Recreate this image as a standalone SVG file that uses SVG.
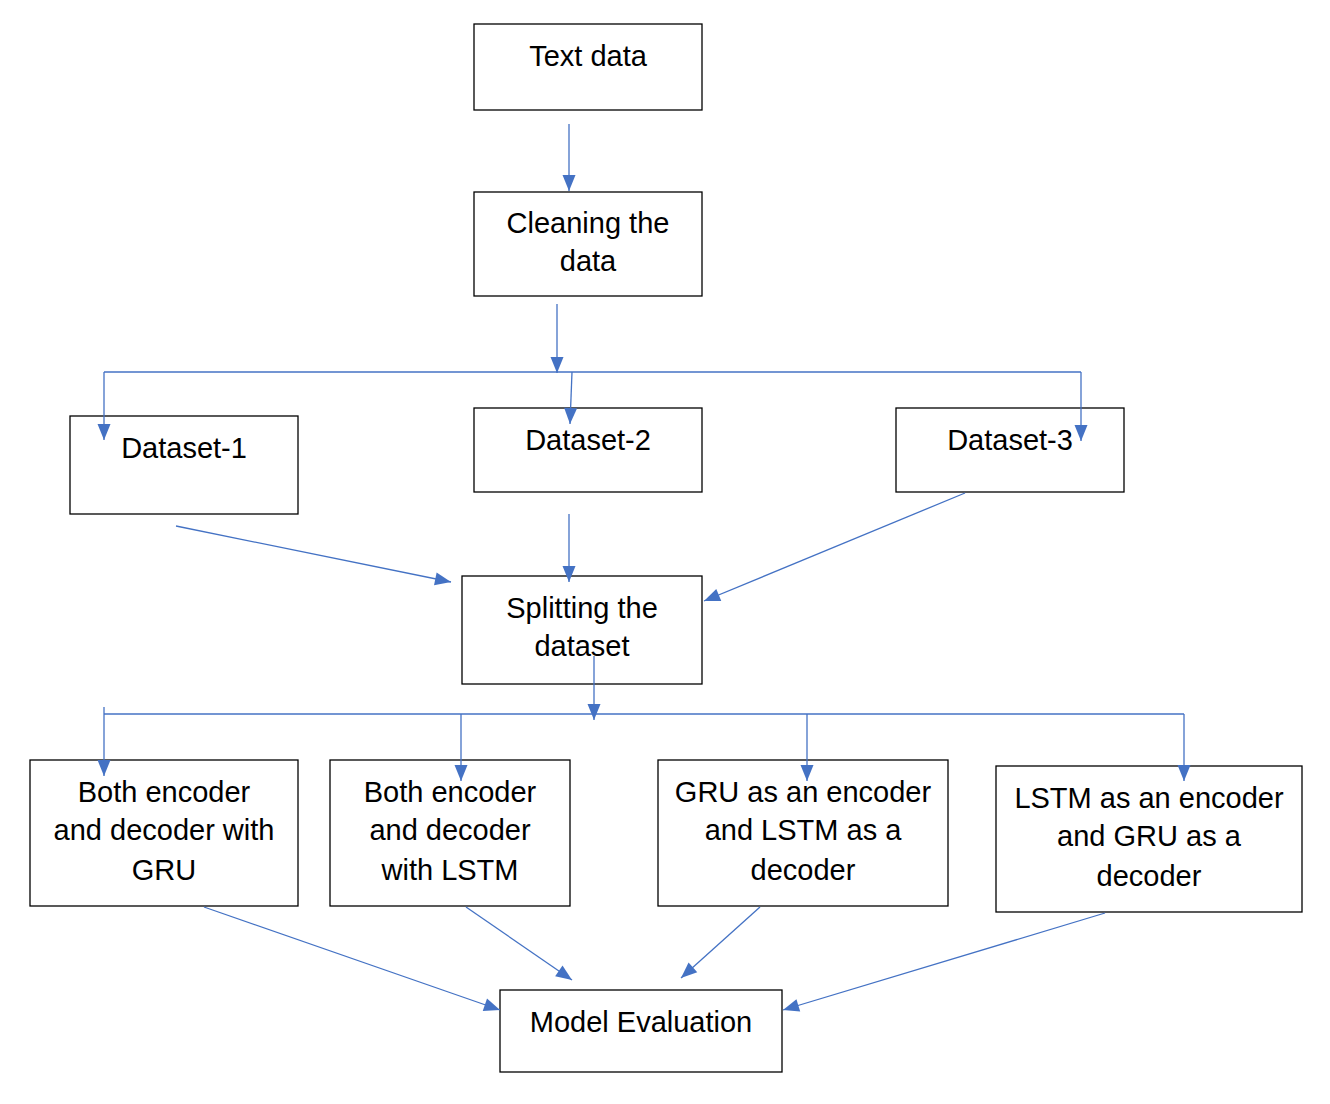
<svg xmlns="http://www.w3.org/2000/svg" width="1330" height="1104" viewBox="0 0 1330 1104">
<style>
.box{fill:#fff;stroke:#000;stroke-width:1.3}
.lbl{font-family:"Liberation Sans",Arial,sans-serif;font-size:29px;fill:#000;text-anchor:middle}
.c{fill:none;stroke:#4472C4;stroke-width:1.3}
.a{marker-end:url(#ah)}
</style>
<defs>
<marker id="ah" markerUnits="userSpaceOnUse" markerWidth="17" markerHeight="14" refX="16" refY="6.5" orient="auto" overflow="visible">
<path d="M0,0 L16,6.5 L0,13 z" fill="#4472C4"/>
</marker>
</defs>
<rect width="1330" height="1104" fill="#fff"/>
<g id="n-text"><rect class="box" x="474" y="24" width="228" height="86"/><text class="lbl" x="588" y="66">Text data</text></g>
<g id="n-clean"><rect class="box" x="474" y="192" width="228" height="104"/><text class="lbl" x="588" y="233">Cleaning the</text><text class="lbl" x="588" y="271">data</text></g>
<g id="n-ds1"><rect class="box" x="70" y="416" width="228" height="98"/><text class="lbl" x="184" y="458">Dataset-1</text></g>
<g id="n-ds2"><rect class="box" x="474" y="408" width="228" height="84"/><text class="lbl" x="588" y="450">Dataset-2</text></g>
<g id="n-ds3"><rect class="box" x="896" y="408" width="228" height="84"/><text class="lbl" x="1010" y="450">Dataset-3</text></g>
<g id="n-split"><rect class="box" x="462" y="576" width="240" height="108"/><text class="lbl" x="582" y="618">Splitting the</text><text class="lbl" x="582" y="656">dataset</text></g>
<g id="n-a"><rect class="box" x="30" y="760" width="268" height="146"/><text class="lbl" x="164" y="802">Both encoder</text><text class="lbl" x="164" y="840">and decoder with</text><text class="lbl" x="164" y="880">GRU</text></g>
<g id="n-b"><rect class="box" x="330" y="760" width="240" height="146"/><text class="lbl" x="450" y="802">Both encoder</text><text class="lbl" x="450" y="840">and decoder</text><text class="lbl" x="450" y="880">with LSTM</text></g>
<g id="n-c"><rect class="box" x="658" y="760" width="290" height="146"/><text class="lbl" x="803" y="802">GRU as an encoder</text><text class="lbl" x="803" y="840">and LSTM as a</text><text class="lbl" x="803" y="880">decoder</text></g>
<g id="n-d"><rect class="box" x="996" y="766" width="306" height="146"/><text class="lbl" x="1149" y="808">LSTM as an encoder</text><text class="lbl" x="1149" y="846">and GRU as a</text><text class="lbl" x="1149" y="886">decoder</text></g>
<g id="n-eval"><rect class="box" x="500" y="990" width="282" height="82"/><text class="lbl" x="641" y="1032">Model Evaluation</text></g>
<g id="connectors">
<line class="c a" x1="569" y1="124" x2="569" y2="191"/>
<line class="c a" x1="557" y1="304" x2="557" y2="373"/>
<line class="c" x1="104" y1="372" x2="1081" y2="372"/>
<line class="c a" x1="104" y1="372" x2="104" y2="440"/>
<line class="c a" x1="572" y1="372" x2="570" y2="424"/>
<line class="c a" x1="1081" y1="372" x2="1081" y2="441"/>
<line class="c a" x1="176" y1="526" x2="451" y2="582"/>
<line class="c a" x1="569" y1="514" x2="569" y2="582"/>
<line class="c a" x1="965" y1="493" x2="704" y2="601"/>
<line class="c a" x1="594" y1="656" x2="594" y2="720"/>
<line class="c" x1="104" y1="714" x2="1184" y2="714"/>
<line class="c a" x1="104" y1="707" x2="104" y2="776"/>
<line class="c a" x1="461" y1="714" x2="461" y2="781"/>
<line class="c a" x1="807" y1="714" x2="807" y2="781"/>
<line class="c a" x1="1184" y1="714" x2="1184" y2="781"/>
<line class="c a" x1="204" y1="907" x2="500" y2="1010"/>
<line class="c a" x1="466" y1="907" x2="572" y2="980"/>
<line class="c a" x1="760" y1="907" x2="681" y2="978"/>
<line class="c a" x1="1105" y1="913" x2="783" y2="1010"/>
</g>
</svg>
